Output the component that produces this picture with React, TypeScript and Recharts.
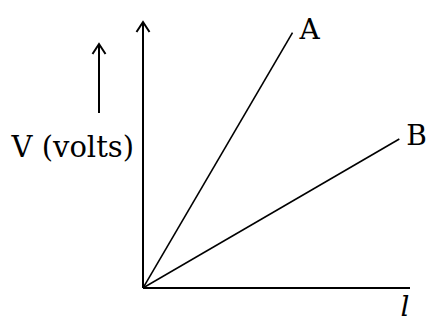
import { LineChart, Line, XAxis, YAxis, LabelList } from "recharts";

// two straight V–l lines through the origin
const lengthA = [0, 5.6];
const voltsA = [0, 9.6];
const lengthB = [0, 9.6];
const voltsB = [0, 5.6];
const seriesNames = ["A", "B"];
const axisDomain = [0, 10];

const seriesA = lengthA.map((l, i) => ({ l, v: voltsA[i] }));
const seriesB = lengthB.map((l, i) => ({ l, v: voltsB[i] }));

const FONT = "'DejaVu Serif', serif";
const INK = "#000";

function endLabel(name: string, count: number) {
  return (p: any) => {
    if (p.index !== count - 1) return null;
    return (
      <text x={p.x + 7} y={p.y + 6} fontFamily={FONT} fontSize={28} fill={INK}>
        {name}
      </text>
    );
  };
}

function YLabel(props: any) {
  const { x, y, width } = props.viewBox;
  const ax = x + width;
  return (
    <g>
      <text x={ax - 9} y={y + 135} textAnchor="end" fontFamily={FONT} fontSize={29} fill={INK}>
        V (volts)
      </text>
      <line
        x1={ax - 44}
        y1={y + 91}
        x2={ax - 44}
        y2={y + 22}
        stroke={INK}
        strokeWidth={2}
        markerEnd="url(#chevron)"
      />
    </g>
  );
}

function XLabel(props: any) {
  const { x, y, width } = props.viewBox;
  return (
    <text
      x={x + width - 5}
      y={y + 28}
      textAnchor="middle"
      fontFamily={FONT}
      fontStyle="italic"
      fontSize={28}
      fill={INK}
    >
      l
    </text>
  );
}

export default function App() {
  return (
    <div style={{ position: "absolute", left: 0, top: 0, background: "#fff" }}>
      <LineChart
        width={427}
        height={322}
        margin={{ top: 22, right: 17, bottom: 33, left: 142 }}
      >
        <defs>
          <marker
            id="chevron"
            viewBox="-2 -8 14 16"
            markerUnits="userSpaceOnUse"
            markerWidth={14}
            markerHeight={16}
            refX={10}
            refY={0}
            orient="auto-start-reverse"
          >
            <path d="M0,-6.5 L10,0 L0,6.5" fill="none" stroke={INK} strokeWidth={2} />
          </marker>
        </defs>
        <XAxis
          type="number"
          dataKey="l"
          domain={axisDomain}
          allowDataOverflow
          height={1}
          tick={false}
          tickLine={false}
          axisLine={{ stroke: INK, strokeWidth: 2 }}
          label={<XLabel />}
        />
        <YAxis
          type="number"
          dataKey="v"
          domain={axisDomain}
          allowDataOverflow
          width={1}
          tick={false}
          tickLine={false}
          axisLine={{ stroke: INK, strokeWidth: 2, markerStart: "url(#chevron)" }}
          label={<YLabel />}
        />
        <Line
          data={seriesA}
          dataKey="v"
          name={seriesNames[0]}
          stroke={INK}
          strokeWidth={1.6}
          dot={false}
          isAnimationActive={false}
        >
          <LabelList dataKey="v" content={endLabel(seriesNames[0], seriesA.length)} />
        </Line>
        <Line
          data={seriesB}
          dataKey="v"
          name={seriesNames[1]}
          stroke={INK}
          strokeWidth={1.6}
          dot={false}
          isAnimationActive={false}
        >
          <LabelList dataKey="v" content={endLabel(seriesNames[1], seriesB.length)} />
        </Line>
      </LineChart>
    </div>
  );
}
